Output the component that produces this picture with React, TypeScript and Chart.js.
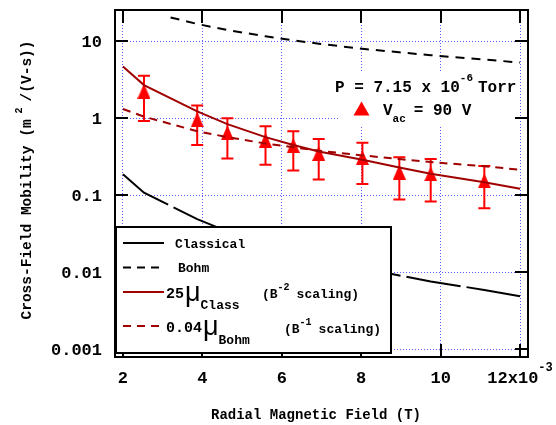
import React, { useEffect, useRef } from 'react';
import { Chart, registerables } from 'chart.js';

Chart.register(...registerables);

// ---- data ----
const curveX = [2, 2.53, 3.87, 4.63, 5.59, 6.29, 6.93, 8.03, 8.96, 9.75, 11.1, 12];
const classicalMu = [0.188, 0.108, 0.049, 0.034, 0.0228, 0.018, 0.0148, 0.0114, 0.0091, 0.0076, 0.0059, 0.0049];
const bohmX = [3.2, 3.87, 4.63, 5.59, 6.29, 6.93, 8.03, 8.96, 9.75, 11.1, 12];
const bohmMu = [20.4, 16.8, 14, 11.6, 10.3, 9.3, 8.0, 7.2, 6.6, 5.8, 5.3];
const classScaled = [4.7, 2.7, 1.23, 0.84, 0.57, 0.45, 0.37, 0.29, 0.23, 0.19, 0.148, 0.122];
const bohmScaled = [1.32, 1.05, 0.68, 0.57, 0.47, 0.42, 0.38, 0.33, 0.295, 0.27, 0.238, 0.215];

const measX = [2.53, 3.87, 4.63, 5.59, 6.29, 6.93, 8.03, 8.96, 9.75, 11.1];
const measY = [2.25, 0.96, 0.65, 0.52, 0.445, 0.35, 0.31, 0.2, 0.19, 0.154];
const measErr = [1.33, 0.51, 0.35, 0.27, 0.235, 0.19, 0.17, 0.112, 0.107, 0.086];

const xTickValues = [2, 4, 6, 8, 10, 12];
const xTickLabels = ['2', '4', '6', '8', '10', '12x10'];
const yTickValues = [0.001, 0.01, 0.1, 1, 10];
const yTickLabels = ['0.001', '0.01', '0.1', '1', '10'];

const X_MIN = 1.8;
const X_MAX = 12.2;
const Y_MIN = 0.000794;
const Y_MAX = 25.5;

const MONO = '"Liberation Mono", "Courier New", monospace';
const SANS = '"Liberation Sans", Arial, sans-serif';
const DARKRED = '#a00000';
const RED = '#ff0000';
const GRID = 'rgb(90,90,255)';

function makeTriangle(w: number, h: number, color: string) {
  const c = document.createElement('canvas');
  c.width = w;
  c.height = h;
  const g = c.getContext('2d')!;
  g.fillStyle = color;
  g.beginPath();
  g.moveTo(w / 2, 0);
  g.lineTo(w, h);
  g.lineTo(0, h);
  g.closePath();
  g.fill();
  return c;
}

function txt(ctx: CanvasRenderingContext2D, s: string, x: number, y: number, font: string) {
  ctx.font = font;
  ctx.fillText(s, x, y);
  return ctx.measureText(s).width;
}

const customPlugin = {
  id: 'customDecor',
  beforeDatasetsDraw(chart: any) {
    const { ctx, chartArea } = chart;
    const xs = chart.scales.x;
    const ys = chart.scales.y;
    ctx.save();
    ctx.beginPath();
    ctx.rect(chartArea.left, chartArea.top, chartArea.right - chartArea.left, chartArea.bottom - chartArea.top);
    ctx.clip();
    // annotation background
    ctx.fillStyle = '#ffffff';
    ctx.fillRect(338, 71, 180, 56);
    // error bars
    ctx.strokeStyle = RED;
    ctx.lineWidth = 2;
    measX.forEach((xv, i) => {
      const px = xs.getPixelForValue(xv);
      const top = ys.getPixelForValue(measY[i] + measErr[i]);
      const bot = ys.getPixelForValue(measY[i] - measErr[i]);
      ctx.beginPath();
      ctx.moveTo(px, top);
      ctx.lineTo(px, bot);
      ctx.moveTo(px - 6, top);
      ctx.lineTo(px + 6, top);
      ctx.moveTo(px - 6, bot);
      ctx.lineTo(px + 6, bot);
      ctx.stroke();
    });
    ctx.restore();
  },
  afterDraw(chart: any) {
    const { ctx, chartArea } = chart;
    const xs = chart.scales.x;
    const ys = chart.scales.y;
    const { left, right, top, bottom } = chartArea;
    ctx.save();

    // inward tick marks
    ctx.strokeStyle = '#000';
    ctx.lineWidth = 2;
    ctx.beginPath();
    xTickValues.forEach((v) => {
      const px = Math.round(xs.getPixelForValue(v));
      ctx.moveTo(px, bottom);
      ctx.lineTo(px, bottom - 13);
      ctx.moveTo(px, top);
      ctx.lineTo(px, top + 13);
    });
    yTickValues.forEach((v) => {
      const py = Math.round(ys.getPixelForValue(v));
      ctx.moveTo(left, py);
      ctx.lineTo(left + 13, py);
      ctx.moveTo(right, py);
      ctx.lineTo(right - 13, py);
    });
    ctx.stroke();

    // legend box
    const lx0 = 116, ly0 = 227, lx1 = 391, ly1 = 353;
    ctx.fillStyle = '#fff';
    ctx.fillRect(lx0, ly0, lx1 - lx0, ly1 - ly0);
    ctx.strokeStyle = '#000';
    ctx.lineWidth = 2;
    ctx.strokeRect(lx0, ly0, lx1 - lx0, ly1 - ly0);

    const sample = (y: number, color: string, dash: number[]) => {
      ctx.save();
      ctx.strokeStyle = color;
      ctx.lineWidth = 2;
      ctx.setLineDash(dash);
      ctx.beginPath();
      ctx.moveTo(123, y);
      ctx.lineTo(164, y);
      ctx.stroke();
      ctx.restore();
    };
    sample(243, '#000', []);
    sample(267.5, '#000', [8, 6]);
    sample(292, DARKRED, []);
    sample(326, DARKRED, [8, 6]);

    ctx.fillStyle = '#000';
    ctx.textAlign = 'left';
    ctx.textBaseline = 'alphabetic';
    const lf = `bold 13px ${MONO}`;
    const bigf = `bold 15px ${MONO}`;
    const subf = `bold 13px ${MONO}`;
    const supf = `bold 10px ${MONO}`;
    const muf = `27px ${SANS}`;
    txt(ctx, 'Classical', 175, 247.5, lf);
    txt(ctx, 'Bohm', 178, 272, lf);
    // 25 mu Class
    let cx = 166;
    cx += txt(ctx, '25', cx, 297.5, bigf);
    cx += 1;
    cx += txt(ctx, 'μ', cx, 301, muf);
    txt(ctx, 'Class', cx, 309, subf);
    let sx = 262;
    sx += txt(ctx, '(B', sx, 298, lf);
    sx += txt(ctx, '-2', sx, 290, supf);
    sx += 7;
    txt(ctx, 'scaling)', sx, 298, lf);
    // 0.04 mu Bohm
    cx = 166;
    cx += txt(ctx, '0.04', cx, 331.5, bigf);
    cx += 1;
    cx += txt(ctx, 'μ', cx, 335, muf);
    txt(ctx, 'Bohm', cx, 344, subf);
    sx = 284;
    sx += txt(ctx, '(B', sx, 333, lf);
    sx += txt(ctx, '-1', sx, 325, supf);
    sx += 7;
    txt(ctx, 'scaling)', sx, 333, lf);

    // plot frame
    ctx.strokeStyle = '#000';
    ctx.lineWidth = 2;
    ctx.strokeRect(left, top, right - left, bottom - top);

    // annotation
    const af = `bold 16px ${MONO}`;
    const asup = `bold 11px ${MONO}`;
    let ax = 335;
    ax += txt(ctx, 'P = 7.15 x 10', ax, 92, af);
    ax += txt(ctx, '-6', ax, 81, asup);
    ax += 5;
    txt(ctx, 'Torr', ax, 92, af);
    ctx.fillStyle = RED;
    ctx.beginPath();
    ctx.moveTo(361.5, 101.5);
    ctx.lineTo(369.5, 115.5);
    ctx.lineTo(353.5, 115.5);
    ctx.closePath();
    ctx.fill();
    ctx.fillStyle = '#000';
    ax = 383;
    ax += txt(ctx, 'V', ax, 115, af);
    ax += txt(ctx, 'ac', ax, 122, `bold 11px ${MONO}`);
    ax += 8;
    txt(ctx, '= 90 V', ax, 115, af);

    // tick labels
    const tf = `bold 17px ${MONO}`;
    ctx.font = tf;
    ctx.textBaseline = 'middle';
    ctx.textAlign = 'right';
    yTickValues.forEach((v, i) => {
      ctx.fillText(yTickLabels[i], 102, ys.getPixelForValue(v) + 1);
    });
    xTickValues.forEach((v, i) => {
      const px = xs.getPixelForValue(v);
      const lab = xTickLabels[i];
      if (i === xTickValues.length - 1) {
        ctx.font = tf;
        const w1 = ctx.measureText(lab).width;
        ctx.font = `bold 12px ${MONO}`;
        const w2 = ctx.measureText('-3').width;
        const start = px - (w1 + w2) / 2;
        ctx.textAlign = 'left';
        ctx.font = tf;
        ctx.fillText(lab, start, 379);
        ctx.font = `bold 12px ${MONO}`;
        ctx.fillText('-3', start + w1, 368);
      } else {
        ctx.textAlign = 'center';
        ctx.font = tf;
        ctx.fillText(lab, px, 379);
      }
    });

    // axis titles
    ctx.font = `bold 14px ${MONO}`;
    ctx.textAlign = 'center';
    ctx.textBaseline = 'middle';
    ctx.fillText('Radial Magnetic Field (T)', 316, 415);

    ctx.save();
    ctx.translate(27, 180);
    ctx.rotate(-Math.PI / 2);
    const yf = `bold 14.5px ${MONO}`;
    const ysf = `bold 10px ${MONO}`;
    ctx.font = yf;
    const p1 = 'Cross-Field Mobility (m';
    const p3 = '/(V-s))';
    const w1 = ctx.measureText(p1).width;
    const w3 = ctx.measureText(p3).width;
    ctx.font = ysf;
    const w2 = ctx.measureText(' 2 ').width;
    const total = w1 + w2 + w3;
    ctx.textAlign = 'left';
    let tx = -total / 2;
    ctx.font = yf;
    ctx.fillText(p1, tx, 0);
    tx += w1;
    ctx.font = ysf;
    ctx.fillText(' 2 ', tx, -8);
    tx += w2;
    ctx.font = yf;
    ctx.fillText(p3, tx, 0);
    ctx.restore();

    ctx.restore();
  },
};

export default function App() {
  const ref = useRef<HTMLCanvasElement | null>(null);

  useEffect(() => {
    if (!ref.current) return;
    const tri = makeTriangle(13, 15, RED);
    const pts = (xs: number[], ys: number[]) => xs.map((x, i) => ({ x, y: ys[i] }));
    const chart = new Chart(ref.current, {
      type: 'line',
      data: {
        datasets: [
          {
            label: '25 mu Class',
            data: pts(curveX, classScaled),
            borderColor: DARKRED,
            borderWidth: 2,
            pointRadius: 0,
            fill: false,
            tension: 0,
          },
          {
            label: '0.04 mu Bohm',
            data: pts(curveX, bohmScaled),
            borderColor: DARKRED,
            borderWidth: 2,
            borderDash: [8, 6],
            pointRadius: 0,
            fill: false,
            tension: 0,
          },
          {
            label: 'Bohm',
            data: pts(bohmX, bohmMu),
            borderColor: '#000',
            borderWidth: 2,
            borderDash: [9, 7],
            pointRadius: 0,
            fill: false,
            tension: 0,
          },
          {
            label: 'Classical',
            data: pts(curveX, classicalMu),
            borderColor: '#000',
            borderWidth: 2,
            borderDash: [55, 6],
            pointRadius: 0,
            fill: false,
            tension: 0,
          },
          {
            label: 'Measured',
            data: pts(measX, measY),
            showLine: false,
            pointStyle: tri as any,
            pointRadius: 7,
            backgroundColor: RED,
            borderColor: RED,
          },
        ],
      },
      options: {
        responsive: false,
        animation: false,
        events: [],
        layout: { padding: { left: 115, top: 10, right: 28, bottom: 68 } },
        plugins: { legend: { display: false }, tooltip: { enabled: false } },
        scales: {
          x: {
            type: 'linear',
            min: X_MIN,
            max: X_MAX,
            afterBuildTicks: (axis: any) => {
              axis.ticks = xTickValues.map((v) => ({ value: v }));
            },
            ticks: { display: false },
            grid: { color: GRID, lineWidth: 1, drawTicks: false },
            border: { display: false, dash: [1, 2] },
          },
          y: {
            type: 'logarithmic',
            min: Y_MIN,
            max: Y_MAX,
            afterBuildTicks: (axis: any) => {
              axis.ticks = yTickValues.map((v) => ({ value: v }));
            },
            ticks: { display: false },
            grid: { color: GRID, lineWidth: 1, drawTicks: false },
            border: { display: false, dash: [1, 2] },
          },
        },
      },
      plugins: [customPlugin],
    });
    return () => chart.destroy();
  }, []);

  return (
    <div style={{ position: 'absolute', left: 0, top: 0, width: 556, height: 425, background: '#fff' }}>
      <canvas ref={ref} width={556} height={425} style={{ display: 'block' }} />
    </div>
  );
}
